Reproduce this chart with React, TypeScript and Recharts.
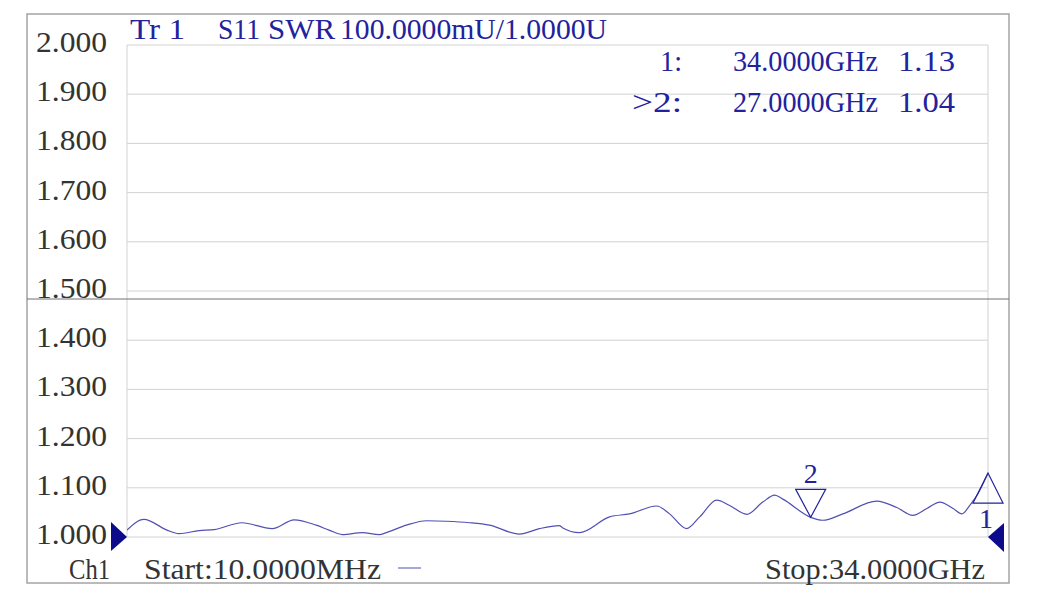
import { CartesianGrid, Line, LineChart, ReferenceDot, XAxis, YAxis } from 'recharts';

// Sweep 10 MHz .. 34 GHz, S11 shown as SWR, 100 mU/div from 1.0000 U
const freqGHz = [
  0.01, 0.68, 1.59, 2.06, 2.86, 3.45, 4.55, 5.74, 6.61, 7.48, 7.99, 8.51, 9.3, 9.97, 10.25, 11.04,
  11.83, 12.62, 13.53, 14.32, 15.5, 16.29, 17.08, 17.2, 17.87, 19.06, 19.85, 20.92, 21.43, 22.1,
  22.62, 23.29, 23.8, 24.48, 25.11, 25.58, 25.9, 27.0, 27.48, 28.27, 29.61, 30.4, 31.03, 31.59,
  32.1, 32.62, 32.97, 33.29, 33.57, 34.0,
];
const swr = [
  1.014, 1.036, 1.014, 1.007, 1.013, 1.015, 1.029, 1.017, 1.035, 1.024, 1.014, 1.005, 1.009, 1.005,
  1.009, 1.024, 1.033, 1.032, 1.029, 1.024, 1.006, 1.017, 1.023, 1.019, 1.009, 1.041, 1.047, 1.063,
  1.047, 1.017, 1.041, 1.075, 1.064, 1.046, 1.071, 1.085, 1.077, 1.04, 1.034, 1.047, 1.073, 1.06,
  1.044, 1.058, 1.071, 1.058, 1.047, 1.065, 1.085, 1.13,
];

const yTicks = [1.0, 1.1, 1.2, 1.3, 1.4, 1.5, 1.6, 1.7, 1.8, 1.9, 2.0];
const xGridTicks = [0.01, 3.409, 6.808, 10.207, 13.606, 17.005, 20.404, 23.803, 27.202, 30.601, 34];

const markerIds = ['1', '2'];
const markerFreqGHz = [34, 27];
const markerSwr = [1.13, 1.04];
const markerFreqLabels = ['34.0000GHz', '27.0000GHz'];
const markerValueLabels = ['1.13', '1.04'];
const refLevel = 1.0;

const data = freqGHz.map((f, i) => ({ f, swr: swr[i] }));

const SERIF = '"Liberation Serif", "DejaVu Serif", serif';
const NAVY = '#22229c';
const TRACE = '#5050b4';
const GREY_TEXT = '#333333';

function YTick({ x, y, payload }: any) {
  return (
    <text
      x={x}
      y={y + 7}
      textAnchor="end"
      fontFamily={SERIF}
      fontSize={30}
      fill={GREY_TEXT}
      textLength={71}
      lengthAdjust="spacingAndGlyphs"
    >
      {Number(payload.value).toFixed(3)}
    </text>
  );
}

// marker 2 style: open triangle pointing down onto the trace, label above
function DownMarker({ cx, cy, label }: any) {
  return (
    <g>
      <polygon
        points={`${cx - 15},${cy - 28} ${cx + 15},${cy - 28} ${cx},${cy}`}
        fill="none"
        stroke={NAVY}
        strokeWidth={1.2}
      />
      <text x={cx} y={cy - 34} textAnchor="middle" fontFamily={SERIF} fontSize={28} fill={NAVY}>
        {label}
      </text>
    </g>
  );
}

// marker 1 style: open triangle pointing up at the trace, label below
function UpMarker({ cx, cy, label }: any) {
  return (
    <g>
      <polygon
        points={`${cx - 15},${cy + 30} ${cx + 15},${cy + 30} ${cx},${cy}`}
        fill="none"
        stroke={NAVY}
        strokeWidth={1.2}
      />
      <text x={cx - 2} y={cy + 55} textAnchor="middle" fontFamily={SERIF} fontSize={28} fill={NAVY}>
        {label}
      </text>
    </g>
  );
}

function LeftRef({ cx, cy }: any) {
  return <polygon points={`${cx - 16},${cy - 15} ${cx},${cy} ${cx - 16},${cy + 14}`} fill="#0b0b8c" />;
}

function RightRef({ cx, cy }: any) {
  return <polygon points={`${cx},${cy} ${cx + 16},${cy - 14} ${cx + 16},${cy + 15}`} fill="#0b0b8c" />;
}

function T({ x, y, w, color = NAVY, size = 29, children }: any) {
  return (
    <text
      x={x}
      y={y}
      fontFamily={SERIF}
      fontSize={size}
      fill={color}
      textLength={w}
      lengthAdjust="spacingAndGlyphs"
    >
      {children}
    </text>
  );
}

export default function App() {
  return (
    <div style={{ position: 'absolute', left: 0, top: 0, width: 1039, height: 596, background: '#fff' }}>
      <LineChart width={1039} height={596} data={data} margin={{ top: 45, right: 51, bottom: 59, left: 27 }}>
        <CartesianGrid stroke="#d2d2d2" strokeWidth={1} />
        <XAxis
          dataKey="f"
          type="number"
          domain={[0.01, 34]}
          ticks={xGridTicks}
          tick={false}
          axisLine={false}
          tickLine={false}
          height={0}
          allowDataOverflow
        />
        <YAxis
          type="number"
          domain={[1, 2]}
          ticks={yTicks}
          width={100}
          tick={<YTick />}
          tickSize={0}
          tickMargin={20}
          axisLine={false}
          tickLine={false}
          allowDataOverflow
        />
        <Line
          dataKey="swr"
          type="monotone"
          stroke={TRACE}
          strokeWidth={1.2}
          dot={false}
          activeDot={false}
          isAnimationActive={false}
        />
        <ReferenceDot
          x={markerFreqGHz[1]}
          y={markerSwr[1]}
          ifOverflow="visible"
          shape={(p: any) => <DownMarker {...p} label={markerIds[1]} />}
        />
        <ReferenceDot
          x={markerFreqGHz[0]}
          y={markerSwr[0]}
          ifOverflow="visible"
          shape={(p: any) => <UpMarker {...p} label={markerIds[0]} />}
        />
        <ReferenceDot x={0.01} y={refLevel} ifOverflow="visible" shape={(p: any) => <LeftRef {...p} />} />
        <ReferenceDot x={34} y={refLevel} ifOverflow="visible" shape={(p: any) => <RightRef {...p} />} />
      </LineChart>

      <svg
        width={1039}
        height={596}
        style={{ position: 'absolute', left: 0, top: 0, pointerEvents: 'none' }}
      >
        <rect x={27} y={14} width={982} height={569} fill="none" stroke="#a4a4a4" strokeWidth={1.5} />
        <line x1={27} x2={1009} y1={299} y2={299} stroke="#707070" strokeWidth={1} />

        <T x={130} y={39} w={55}>Tr 1</T>
        <T x={218} y={39} w={42}>S11</T>
        <T x={268} y={39} w={67}>SWR</T>
        <T x={340} y={39} w={267}>100.0000mU/1.0000U</T>

        <T x={660} y={71} w={22}>{markerIds[0] + ':'}</T>
        <T x={733} y={71} w={145}>{markerFreqLabels[0]}</T>
        <T x={898} y={71} w={57}>{markerValueLabels[0]}</T>
        <T x={632} y={112} w={50}>{'>' + markerIds[1] + ':'}</T>
        <T x={733} y={112} w={145}>{markerFreqLabels[1]}</T>
        <T x={898} y={112} w={57}>{markerValueLabels[1]}</T>

        <T x={69} y={579} w={41} color={GREY_TEXT}>Ch1</T>
        <T x={144} y={579} w={237} color={GREY_TEXT}>Start:10.0000MHz</T>
        <line x1={398} x2={421} y1={568} y2={568} stroke="#8a8ad0" strokeWidth={1.5} />
        <T x={765} y={579} w={220} color={GREY_TEXT}>Stop:34.0000GHz</T>
      </svg>
    </div>
  );
}
